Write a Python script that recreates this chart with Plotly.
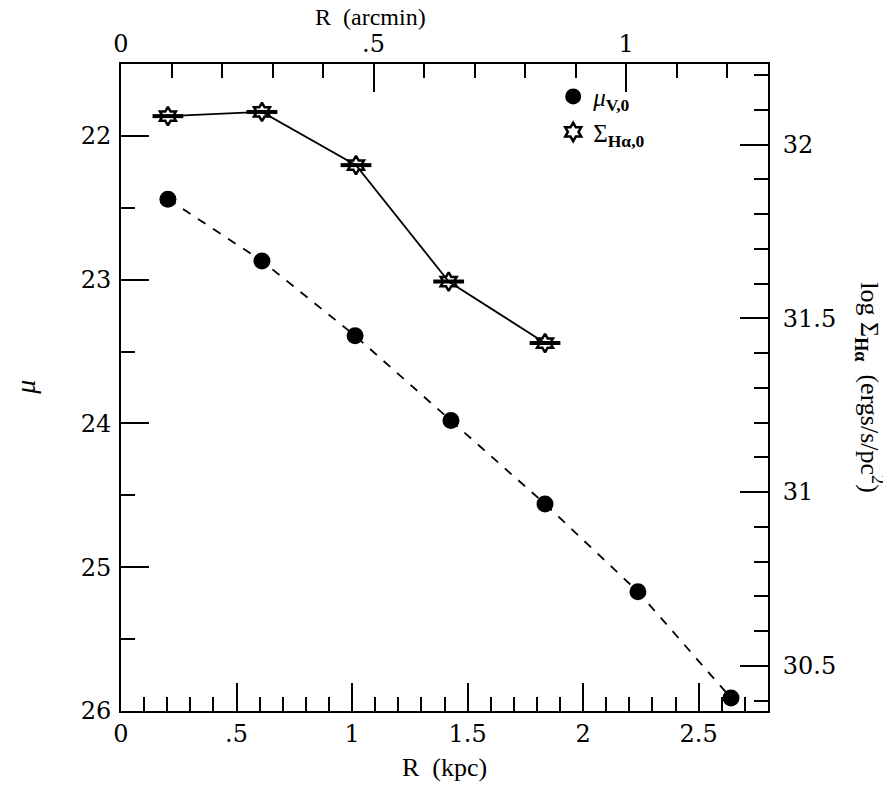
import plotly.graph_objects as go

# ---- data ----
r_kpc = [0.203, 0.610, 1.013, 1.428, 1.835, 2.237, 2.640]
mu_v0 = [22.44, 22.87, 23.39, 23.98, 24.56, 25.17, 25.91]
r_kpc_ha = [0.203, 0.610, 1.017, 1.418, 1.835]
log_sigma_ha = [32.082, 32.094, 31.941, 31.606, 31.429]
kpc_per_arcmin = 2.186

x_tickvals = [0, 0.5, 1, 1.5, 2, 2.5]
x_ticktext = ["0", ".5", "1", "1.5", "2", "2.5"]
x2_tickvals = [0, 0.5, 1]
x2_ticktext = ["0", ".5", "1"]
y_tickvals = [22, 23, 24, 25, 26]
y_ticktext = ["22", "23", "24", "25", "26"]
y2_tickvals = [30.5, 31, 31.5, 32]
y2_ticktext = ["30.5", "31", "31.5", "32"]

r_arcmin = [r / kpc_per_arcmin for r in r_kpc]

TFONT = "Liberation Serif"
NFONT = "DejaVu Serif"
BLACK = "black"

fig = go.Figure()

# lines
fig.add_trace(go.Scatter(x=r_kpc, y=mu_v0, mode="lines", xaxis="x", yaxis="y",
                         line=dict(color=BLACK, width=1.8, dash="dash"),
                         showlegend=False, hoverinfo="skip"))
fig.add_trace(go.Scatter(x=r_kpc_ha, y=log_sigma_ha, mode="lines", xaxis="x", yaxis="y2",
                         line=dict(color=BLACK, width=1.8),
                         showlegend=False, hoverinfo="skip"))
# horizontal bars through stars
fig.add_trace(go.Scatter(x=r_kpc_ha, y=log_sigma_ha, mode="markers", xaxis="x", yaxis="y2",
                         marker=dict(symbol="line-ew", size=22, color=BLACK,
                                     line=dict(color=BLACK, width=4)),
                         showlegend=False, hoverinfo="skip"))
# invisible trace so the top (arcmin) axis is drawn
fig.add_trace(go.Scatter(x=r_arcmin, y=mu_v0, mode="markers", xaxis="x2", yaxis="y",
                         marker=dict(size=1, opacity=0), showlegend=False, hoverinfo="skip"))
# markers
fig.add_trace(go.Scatter(x=r_kpc, y=mu_v0, mode="markers", xaxis="x", yaxis="y",
                         name="<i>μ</i><sub><b>V,0</b></sub>",
                         marker=dict(symbol="circle", size=17, color=BLACK)))
fig.add_trace(go.Scatter(x=r_kpc_ha, y=log_sigma_ha, mode="markers", xaxis="x", yaxis="y2",
                         name="Σ<sub><b>Hα,0</b></sub>",
                         marker=dict(symbol="hexagram-open", size=14, color=BLACK,
                                     line=dict(color=BLACK, width=2.5))))

tickfont = dict(family=NFONT, size=24, color=BLACK)
common = dict(showline=True, linecolor=BLACK, linewidth=2, ticks="inside",
              tickcolor=BLACK, tickwidth=2, ticklen=28, showgrid=False,
              zeroline=False, tickfont=tickfont, automargin=False)
minor = lambda d: dict(dtick=d, tick0=0, ticks="inside", ticklen=14,
                       tickwidth=2, tickcolor=BLACK, showgrid=False)

fig.update_layout(
    width=883, height=778,
    margin=dict(l=113, r=123, t=56, b=75),
    paper_bgcolor="white", plot_bgcolor="white",
    font=dict(family=TFONT, size=22, color=BLACK),
    xaxis=dict(range=[0, 2.8], tickvals=x_tickvals, ticktext=x_ticktext,
               minor=minor(0.1), **common),
    xaxis2=dict(range=[0, 2.8 / kpc_per_arcmin], overlaying="x", side="top", anchor="y",
                tickvals=x2_tickvals, ticktext=x2_ticktext,
                minor=minor(0.1), **common),
    yaxis=dict(range=[26, 21.5], tickvals=y_tickvals, ticktext=y_ticktext,
               minor=minor(0.5), ticklabelstandoff=3, **common),
    yaxis2=dict(range=[30.370, 32.232], overlaying="y", side="right", anchor="x",
                tickvals=y2_tickvals, ticktext=y2_ticktext,
                minor=minor(0.1), ticklabelstandoff=8, **common),
    legend=dict(x=0.668, y=0.985, xanchor="left", yanchor="top",
                bgcolor="rgba(0,0,0,0)", font=dict(family=TFONT, size=25),
                tracegroupgap=0, itemwidth=30),
    annotations=[
        dict(text="log Σ<sub><b>Hα</b></sub>  (ergs/s/pc<sup>2</sup>)",
             xref="paper", yref="paper", x=1.158, y=0.5,
             xanchor="center", yanchor="middle",
             textangle=90, showarrow=False,
             font=dict(family=TFONT, size=26, color=BLACK)),
        dict(text="<i>μ</i>", xref="paper", yref="paper", x=-0.148, y=0.5,
             xanchor="center", yanchor="middle",
             textangle=-90, showarrow=False,
             font=dict(family=TFONT, size=28, color=BLACK)),
        dict(text="R  (kpc)", xref="paper", yref="paper", x=0.5, y=-0.087,
             xanchor="center", yanchor="middle",
             showarrow=False, font=dict(family=TFONT, size=26, color=BLACK)),
        dict(text="R  (arcmin)", xref="paper", yref="paper", x=0.386, y=1.072,
             xanchor="center", yanchor="middle",
             showarrow=False, font=dict(family=TFONT, size=24, color=BLACK)),
    ],
)

fig.write_html("out.html")
